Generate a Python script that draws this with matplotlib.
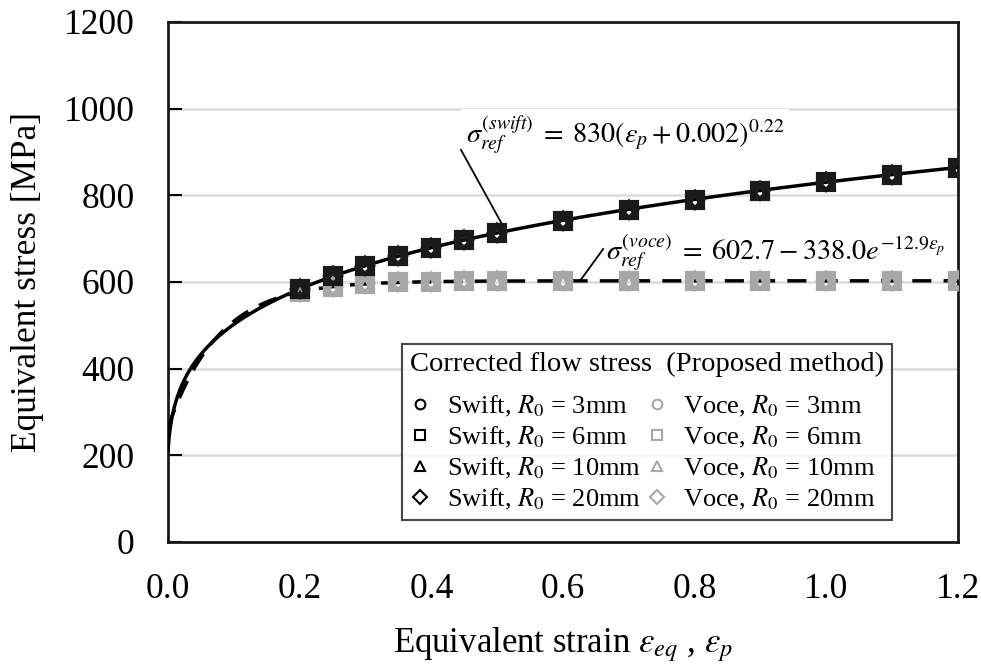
import numpy as np
import matplotlib
matplotlib.use('Agg')
from matplotlib import pyplot as plt
from matplotlib.lines import Line2D

plt.rcParams['font.family'] = 'Liberation Serif'
plt.rcParams['mathtext.fontset'] = 'stix'

# corrected flow stress at the sampled strains (MPa)
strain = [0.2, 0.25, 0.3, 0.35, 0.4, 0.45, 0.5, 0.6, 0.7, 0.8, 0.9, 1.0, 1.1, 1.2]
swift_stress = [584, 613, 637, 659, 678, 696, 712, 741, 767, 790, 811, 830, 848, 864]
voce_stress = [577, 589, 595, 599, 601, 602, 602, 602.6, 602.7, 602.7, 602.7, 602.7, 602.7, 602.7]
radii = ['3', '6', '10', '20']
markers = ['o', 's', '^', 'D']

# fitted reference curves (parameters from the equations)
swift_K, swift_e0, swift_n = 830, 0.002, 0.22
voce_A, voce_B, voce_c = 602.7, 338.0, 12.9

eps = np.linspace(0, 1.2, 600)
sig_swift = swift_K * (eps + swift_e0) ** swift_n
sig_voce = voce_A - voce_B * np.exp(-voce_c * eps)

fig = plt.figure(figsize=(9.81, 6.66), dpi=100)
ax = fig.add_axes([168/981, 1 - 542/666, 790/981, 520/666])

ax.plot(eps, sig_swift, color='black', lw=2.5, zorder=3)
ax.plot(eps, sig_voce, color='black', lw=2.5, ls=(0, (5.5, 3.5)), zorder=3)

grey = '#a8a8a8'
sizes = {'o': 10, 's': 11.5, '^': 10, 'D': 8}
for r, m in zip(radii, markers):
    ax.plot(strain, voce_stress, ls='none', marker=m, ms=sizes[m], mfc='none',
            mec=grey, mew=3, zorder=4)
for r, m in zip(radii, markers):
    ax.plot(strain, swift_stress, ls='none', marker=m, ms=sizes[m], mfc='none',
            mec='#1a1a1a', mew=3, zorder=5)

ax.set_xlim(0, 1.2)
ax.set_ylim(0, 1200)
ax.set_xticks(np.arange(0, 1.21, 0.2))
ax.set_xticklabels(['%.1f' % v for v in np.arange(0, 1.21, 0.2)])
ax.set_yticks(range(0, 1201, 200))
ax.yaxis.grid(True, color='#dcdcdc', lw=1.8)
ax.set_axisbelow(True)
ax.tick_params(axis='y', direction='in', length=10, width=1.5, labelsize=25.5, pad=24)
ax.tick_params(axis='x', length=0, labelsize=25.5, pad=22)
for s in ax.spines.values():
    s.set_linewidth(2)
    s.set_color('#1a1a1a')

ax.set_xlabel(r'Equivalent strain $\varepsilon_{eq}$ , $\varepsilon_p$', fontsize=25, labelpad=14)
ax.set_ylabel('Equivalent stress [MPa]', fontsize=25.5, labelpad=14)

# equation labels with leader lines
ax.text(0.452, 940, r'$\sigma_{ref}^{(swift)}\;=\;830(\varepsilon_p+0.002)^{0.22}$',
        fontsize=20.3, va='center', zorder=2,
        bbox=dict(facecolor='white', edgecolor='none', pad=3))
ax.plot([0.445, 0.509], [905, 729], color='black', lw=1.3)
ax.text(0.666, 668, r'$\sigma_{ref}^{(voce)}\;=\;602.7-338.0e^{-12.9\varepsilon_p}$',
        fontsize=20.3, va='center')
ax.plot([0.626, 0.661], [603, 676], color='black', lw=1.3)

handles = []
labels = []
for r, m in zip(radii, markers):
    handles.append(Line2D([], [], ls='none', marker=m, ms=7, mfc='none', mec='black', mew=1.5))
    labels.append(r'Swift, $R_{\rm 0}$ = %smm' % r)
for r, m in zip(radii, markers):
    handles.append(Line2D([], [], ls='none', marker=m, ms=7, mfc='none', mec=grey, mew=1.5))
    labels.append(r'Voce, $R_{\rm 0}$ = %smm' % r)

leg = ax.legend(handles, labels, ncol=2, loc='lower left', bbox_to_anchor=(234/790, 22/520),
                fontsize=19, title='Corrected flow stress  (Proposed method)',
                title_fontsize=20.5, frameon=True, fancybox=False, handlelength=0.8,
                handletextpad=0.6, columnspacing=0.2, labelspacing=0.22,
                borderpad=0.3, borderaxespad=0)
leg.get_frame().set_edgecolor('#1a1a1a')
leg.get_frame().set_linewidth(1.5)
leg._legend_box.align = 'left'
leg._legend_box.sep = 12

plt.savefig('out.png', dpi=100)
